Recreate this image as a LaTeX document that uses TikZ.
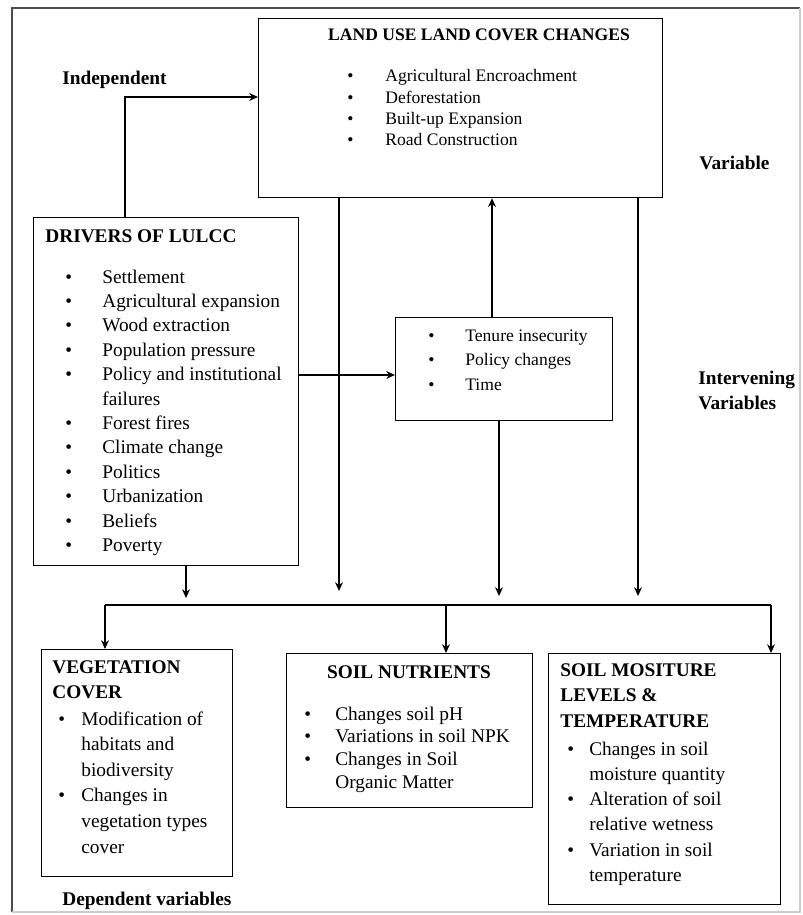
\documentclass[tikz,border=0pt]{standalone}
\usepackage{fontspec}
\setmainfont{Liberation Serif}
\usetikzlibrary{arrows.meta}
\newlength{\pxu}
\setlength{\pxu}{0.02cm}

\tikzset{
  box/.style={draw, line width=0.7pt, anchor=north west, inner sep=0pt},
  arr/.style={-{Stealth[length=5pt,width=4.5pt]}, line width=0.6pt},
  lbl/.style={font=\fontsize{11}{13}\selectfont\bfseries, inner sep=0pt},
  ttl/.style={font=\fontsize{11}{14.7}\selectfont\bfseries, inner sep=0pt, align=left}
}

\begin{document}
\begin{tikzpicture}[x=0.02cm, y=-0.02cm]
    \useasboundingbox (0,0) rectangle (803,915);
    % frame
    \draw[gray!60!black, line width=0.7pt] (12,912) -- (12,8) -- (800,8);
    \draw[gray!40, line width=0.6pt] (12,912) -- (800,912) -- (800,8);

    % boxes
    \node[box, minimum width=404*\pxu, minimum height=179*\pxu] (lulcc) at (258,18) {};
    \node[box, minimum width=265*\pxu, minimum height=348*\pxu] (drivers) at (33,217) {};
    \node[box, minimum width=217*\pxu, minimum height=103*\pxu] (tenure) at (395,317) {};
    \node[box, minimum width=191*\pxu, minimum height=227*\pxu] (veg) at (41,649) {};
    \node[box, minimum width=246*\pxu, minimum height=154*\pxu] (nutr) at (286,653) {};
    \node[box, minimum width=232*\pxu, minimum height=251*\pxu] (moist) at (548,653) {};

    % box texts
    \node[font=\fontsize{10}{12}\selectfont\bfseries, inner sep=0pt] (lulcctitle) at (479,35) {LAND USE LAND COVER CHANGES};
    \node[anchor=base west, inner sep=0pt, font=\fontsize{10}{12.1}\selectfont] (lulcclist) at (347,82)
      {\begin{tabular}[t]{@{}p{38\pxu}@{}l@{}}
        \textbullet & Agricultural Encroachment\\
        \textbullet & Deforestation\\
        \textbullet & Built-up Expansion\\
        \textbullet & Road Construction
      \end{tabular}};

    \node[lbl, anchor=west] (driverstitle) at (45,236) {DRIVERS OF LULCC};
    \node[anchor=base west, inner sep=0pt, font=\fontsize{11}{13.9}\selectfont] (driverslist) at (65,283)
      {\begin{tabular}[t]{@{}p{37\pxu}@{}l@{}}
        \textbullet & Settlement\\
        \textbullet & Agricultural expansion\\
        \textbullet & Wood extraction\\
        \textbullet & Population pressure\\
        \textbullet & Policy and institutional\\
                    & failures\\
        \textbullet & Forest fires\\
        \textbullet & Climate change\\
        \textbullet & Politics\\
        \textbullet & Urbanization\\
        \textbullet & Beliefs\\
        \textbullet & Poverty
      \end{tabular}};

    \node[anchor=base west, inner sep=0pt, font=\fontsize{10}{14.2}\selectfont] (tenurelist) at (428,341)
      {\begin{tabular}[t]{@{}p{37\pxu}@{}l@{}}
        \textbullet & Tenure insecurity\\
        \textbullet & Policy changes\\
        \textbullet & Time
      \end{tabular}};

    \node[ttl, anchor=north west] (vegtitle) at (52,660) {VEGETATION\\COVER};
    \node[anchor=base west, inner sep=0pt, font=\fontsize{11}{14.6}\selectfont] (veglist) at (58,725)
      {\begin{tabular}[t]{@{}p{23\pxu}@{}l@{}}
        \textbullet & Modification of\\
                    & habitats and\\
                    & biodiversity\\
        \textbullet & Changes in\\
                    & vegetation types\\
                    & cover
      \end{tabular}};

    \node[lbl] (nutrtitle) at (409,672) {SOIL NUTRIENTS};
    \node[anchor=base west, inner sep=0pt, font=\fontsize{11}{13}\selectfont] (nutrlist) at (304,720)
      {\begin{tabular}[t]{@{}p{31\pxu}@{}l@{}}
        \textbullet & Changes soil pH\\
        \textbullet & Variations in soil NPK\\
        \textbullet & Changes in Soil\\
                    & Organic Matter
      \end{tabular}};

    \node[ttl, anchor=north west] (moisttitle) at (560,663) {SOIL MOSITURE\\LEVELS \&\\TEMPERATURE};
    \node[anchor=base west, inner sep=0pt, font=\fontsize{11}{14.4}\selectfont] (moistlist) at (567,755)
      {\begin{tabular}[t]{@{}p{22\pxu}@{}l@{}}
        \textbullet & Changes in soil\\
                    & moisture quantity\\
        \textbullet & Alteration of soil\\
                    & relative wetness\\
        \textbullet & Variation in soil\\
                    & temperature
      \end{tabular}};

    % side labels
    \node[lbl, anchor=west] (indep) at (62,80) {Independent};
    \node[lbl, anchor=west] (var) at (699,163) {Variable};
    \node[lbl, anchor=north west, align=left, font=\fontsize{11}{14.2}\selectfont\bfseries] (interv) at (698,371) {Intervening\\Variables};
    \node[lbl, anchor=west] (dep) at (62,901) {Dependent variables};

    % connectors
    \coordinate (elbow) at (125,97);
    \coordinate (tipdrv) at (186,598);
    \coordinate (tipa) at (339,591);
    \coordinate (tipt) at (499,596);
    \coordinate (tipb) at (638,596);
    \coordinate (busW) at (105,605);
    \coordinate (busM) at (446,605);
    \coordinate (busE) at (771,605);

    \draw[arr] (drivers.north -| elbow) -- (elbow) -- (lulcc.west |- elbow);
    \draw[arr] (drivers.east |- 0,375) -- (tenure.west |- 0,375);
    \draw[arr] (tenure.north -| 492,0) -- (lulcc.south -| 492,0);
    \draw[arr] (drivers.south -| tipdrv) -- (tipdrv);
    \draw[arr] (lulcc.south -| tipa) -- (tipa);
    \draw[arr] (tenure.south -| tipt) -- (tipt);
    \draw[arr] (lulcc.south -| tipb) -- (tipb);
    \draw[line width=0.6pt] (busW) -- (busE);
    \draw[arr] (busW) -- (veg.north -| busW);
    \draw[arr] (busM) -- (nutr.north -| busM);
    \draw[arr] (busE) -- (moist.north -| busE);
  \end{tikzpicture}
\end{document}
